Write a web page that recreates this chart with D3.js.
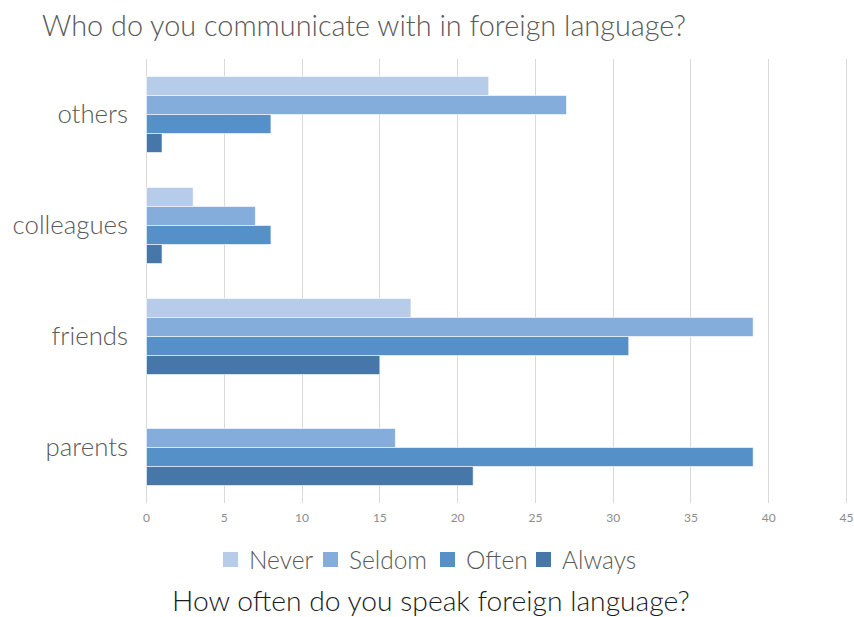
<!DOCTYPE html>
<html>
<head>
<meta charset="utf-8">
<script src="https://cdn.jsdelivr.net/npm/d3@7"></script>
<style>
  html, body { margin: 0; padding: 0; background: #ffffff; }
  svg { display: block; }
  text { font-family: "Lato", "Noto Sans", "DejaVu Sans", sans-serif; }
</style>
</head>
<body>
<svg id="chart" width="854" height="617"></svg>
<script>
// Who speaks a foreign language with whom, and how often
const categories = ["others", "colleagues", "friends", "parents"];
const seriesNames = ["Never", "Seldom", "Often", "Always"];
const never  = [22, 3, 17, 0];
const seldom = [27, 7, 39, 16];
const often  = [8, 8, 31, 39];
const always = [1, 1, 15, 21];
const xTicks = [0, 5, 10, 15, 20, 25, 30, 35, 40, 45];
const colors = ["#b7cce8", "#84addb", "#5591c8", "#4677a8"];

const titleText = "Who do you communicate with in foreign language?";
const axisTitleText = "How often do you speak foreign language?";

const seriesValues = [never, seldom, often, always];
const rows = categories.map((c, i) => ({
  category: c,
  values: seriesNames.map((s, j) => ({ series: s, value: seriesValues[j][i] }))
}));

const svg = d3.select("#chart");
const plot = { left: 146, right: 846, top: 59, bottom: 503 };

const x = d3.scaleLinear().domain([0, 45]).range([plot.left, plot.right]);
const y = d3.scaleBand().domain(categories).range([plot.top, plot.bottom]).paddingInner(0.315).paddingOuter(0.1575);
const ySub = d3.scaleBand().domain(seriesNames).range([0, y.bandwidth()]);
const color = d3.scaleOrdinal().domain(seriesNames).range(colors);

// vertical gridlines
svg.append("g")
  .selectAll("line")
  .data(xTicks)
  .join("line")
  .attr("x1", d => Math.round(x(d)) + 0.5)
  .attr("x2", d => Math.round(x(d)) + 0.5)
  .attr("y1", plot.top)
  .attr("y2", plot.bottom)
  .attr("stroke", "#d9d9d9")
  .attr("stroke-width", 1);

// bars
const groups = svg.append("g")
  .selectAll("g")
  .data(rows)
  .join("g")
  .attr("transform", d => `translate(0,${y(d.category)})`);

groups.selectAll("rect")
  .data(d => d.values.filter(v => v.value > 0))
  .join("rect")
  .attr("x", x(0) + 0.5)
  .attr("y", d => ySub(d.series))
  .attr("width", d => x(d.value) - x(0))
  .attr("height", ySub.bandwidth())
  .attr("fill", d => color(d.series))
  .attr("stroke", "#ffffff")
  .attr("stroke-opacity", 0.6)
  .attr("stroke-width", 1);

// x axis tick labels
const xAxis = d3.axisBottom(x).tickValues(xTicks).tickSize(0).tickPadding(10);
const gx = svg.append("g")
  .attr("transform", `translate(0,${plot.bottom})`)
  .call(xAxis);
gx.select(".domain").remove();
gx.selectAll("text")
  .attr("fill", "#8c8c8c")
  .style("font-size", "12px")
  .style("font-family", "Lato, 'Noto Sans', sans-serif");

// category labels
const yAxis = d3.axisLeft(y).tickSize(0).tickPadding(18);
const gy = svg.append("g")
  .attr("transform", `translate(${plot.left},0)`)
  .call(yAxis);
gy.select(".domain").remove();
gy.selectAll("text")
  .attr("fill", "#595959")
  .style("font-size", "25.8px")
  .style("font-weight", "300")
  .style("font-family", "Lato, 'Noto Sans', sans-serif");

// fit a text element to a target width by scaling its font size
function fitWidth(sel, target) {
  const node = sel.node();
  const w = node.getComputedTextLength();
  const fs = parseFloat(sel.style("font-size"));
  if (w > 0) sel.style("font-size", (fs * target / w).toFixed(2) + "px");
}

// chart title
const title = svg.append("text")
  .attr("x", 42)
  .attr("y", 36)
  .attr("fill", "#595959")
  .style("font-size", "28px")
  .style("font-weight", "300")
  .text(titleText);
fitWidth(title, 644);

// legend
const legendItems = [
  { name: "Never", sx: 223 },
  { name: "Seldom", sx: 323 },
  { name: "Often", sx: 440 },
  { name: "Always", sx: 536 }
];
const legend = svg.append("g");
legendItems.forEach(item => {
  legend.append("rect")
    .attr("x", item.sx)
    .attr("y", 552)
    .attr("width", 15)
    .attr("height", 15)
    .attr("fill", color(item.name));
  legend.append("text")
    .attr("x", item.sx + 26)
    .attr("y", 569)
    .attr("fill", "#595959")
    .style("font-size", "24.5px")
    .style("font-weight", "300")
    .text(item.name);
});

// horizontal axis title
const axisTitle = svg.append("text")
  .attr("x", 172)
  .attr("y", 611)
  .attr("fill", "#1a1a1a")
  .style("font-size", "26px")
  .style("font-weight", "300")
  .text(axisTitleText);
fitWidth(axisTitle, 518);
</script>
</body>
</html>
